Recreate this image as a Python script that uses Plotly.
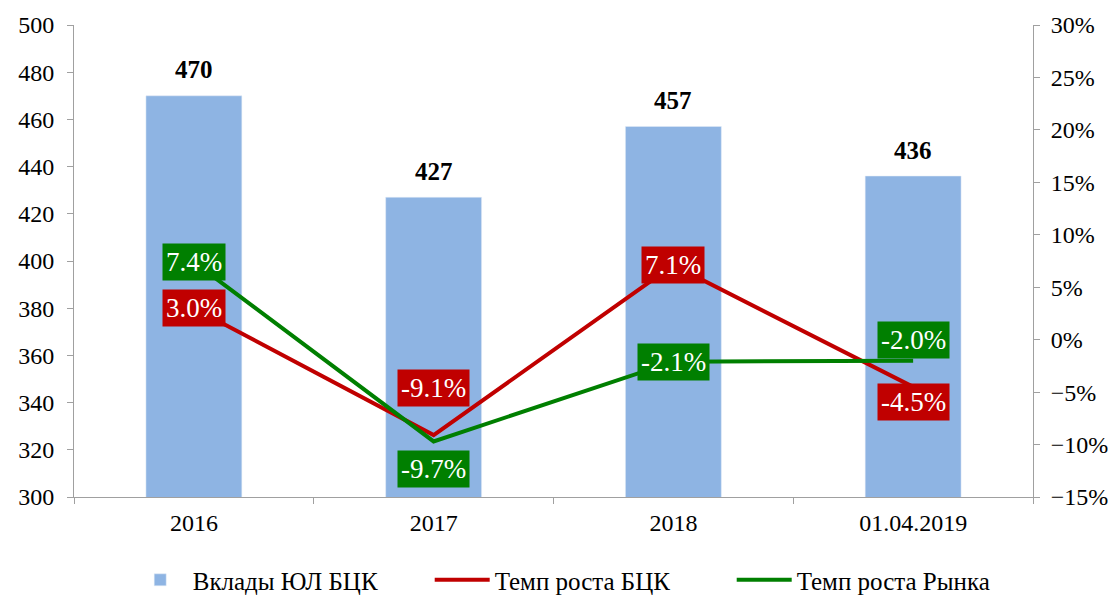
import plotly.graph_objects as go

categories = ["2016", "2017", "2018", "01.04.2019"]
deposits = [470, 427, 457, 436]
growth_bck = [3.0, -9.1, 7.1, -4.5]
growth_market = [7.4, -9.7, -2.1, -2.0]

BAR = "#8EB4E3"
RED = "#C00000"
GREEN = "#007F00"
AXIS = "#A0A0A0"
FONT = "Liberation Serif"

fig = go.Figure()
fig.add_trace(go.Bar(
    x=categories, y=deposits, name="Вклады ЮЛ БЦК",
    marker_color=BAR, width=0.4,
))
fig.add_trace(go.Scatter(
    x=categories, y=growth_bck, name="Темп роста БЦК", yaxis="y2",
    mode="lines", line=dict(color=RED, width=4),
))
fig.add_trace(go.Scatter(
    x=categories, y=growth_market, name="Темп роста Рынка", yaxis="y2",
    mode="lines", line=dict(color=GREEN, width=4),
))

# bar value labels (category index used as x on the category axis)
for i, v in enumerate(deposits):
    fig.add_annotation(x=i, y=v, yref="y", text=f"<b>{v}</b>", showarrow=False,
                       yshift=26, font=dict(size=25, color="black", family=FONT))

# growth labels; offsets (px) keep the boxes apart
red_shift = [0, 47, 0, -15]
green_shift = [0, -28, 0, 21]
for series, color, shifts in [(growth_bck, RED, red_shift), (growth_market, GREEN, green_shift)]:
    for i, (v, s) in enumerate(zip(series, shifts)):
        fig.add_annotation(
            x=i, y=v, yref="y2", text=f"{v:.1f}%", showarrow=False,
            yshift=s, bgcolor=color, borderpad=3,
            font=dict(size=27, color="white", family=FONT),
        )

fig.update_layout(
    width=1108, height=589,
    margin=dict(l=66, r=83, t=17, b=100, autoexpand=False),
    plot_bgcolor="white", paper_bgcolor="white",
    font=dict(family=FONT, size=24, color="black"),
    showlegend=True,
    legend=dict(orientation="h", x=0.056, xanchor="left", y=-0.176, yanchor="middle",
                font=dict(size=25), itemwidth=55, traceorder="normal",
                entrywidth=232, entrywidthmode="pixels"),
    xaxis=dict(type="category", range=[-0.5, 3.5], showline=True, linecolor=AXIS,
               ticks="outside", tickson="boundaries", ticklen=6, tickcolor=AXIS,
               showgrid=False, tickangle=0, ticklabelstandoff=4),
    yaxis=dict(range=[300, 500], dtick=20, showline=True, linecolor=AXIS,
               ticks="outside", ticklen=6, tickcolor=AXIS, showgrid=False,
               zeroline=False, ticklabelstandoff=8),
    yaxis2=dict(range=[-15, 30], dtick=5, overlaying="y", side="right", showline=True,
                linecolor=AXIS, ticks="outside", ticklen=6, tickcolor=AXIS,
                showgrid=False, zeroline=False, ticksuffix="%", ticklabelstandoff=6),
)

fig.write_html("out.html")
